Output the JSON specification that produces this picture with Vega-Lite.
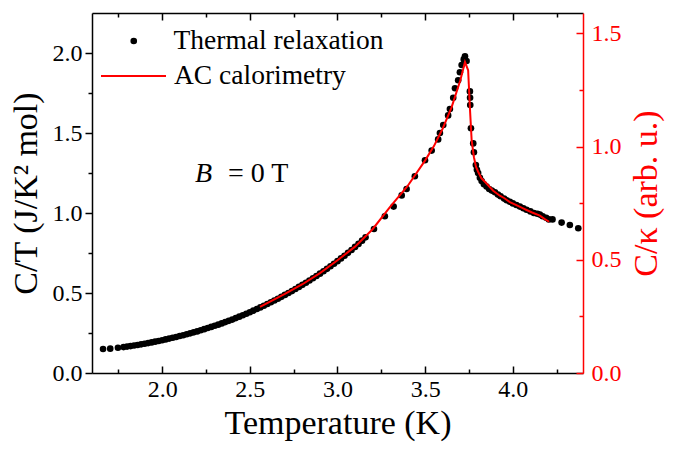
{
  "$schema": "https://vega.github.io/schema/vega-lite/v6.json",
  "width": 491,
  "height": 360,
  "autosize": "none",
  "padding": {"left": 92, "top": 13, "right": 93, "bottom": 76},
  "background": "white",
  "config": {
    "view": {"stroke": null},
    "font": "Liberation Serif",
    "axis": {
      "labelFont": "Liberation Serif",
      "titleFont": "Liberation Serif",
      "labelFontSize": 24,
      "titleFontSize": 34,
      "titleFontWeight": "normal",
      "labelColor": "#000",
      "titleColor": "#000",
      "domainColor": "#000",
      "tickColor": "#000",
      "domainWidth": 1.5,
      "tickWidth": 1.5,
      "grid": false,
      "labelFlush": false,
      "labelOverlap": false
    },
    "legend": {
      "labelFont": "Liberation Serif",
      "labelFontSize": 27.5,
      "labelColor": "#000",
      "labelLimit": 0
    }
  },
  "datasets": {
    "relax": [
      {"T": 1.663, "CT": 0.150}, {"T": 1.704, "CT": 0.152}, {"T": 1.748, "CT": 0.158},
      {"T": 1.78, "CT": 0.162}, {"T": 1.80, "CT": 0.165}, {"T": 1.82, "CT": 0.168},
      {"T": 1.84, "CT": 0.172}, {"T": 1.86, "CT": 0.175}, {"T": 1.88, "CT": 0.179},
      {"T": 1.90, "CT": 0.183}, {"T": 1.92, "CT": 0.187}, {"T": 1.94, "CT": 0.191},
      {"T": 1.96, "CT": 0.196}, {"T": 1.98, "CT": 0.200}, {"T": 2.00, "CT": 0.205},
      {"T": 2.02, "CT": 0.210}, {"T": 2.04, "CT": 0.215}, {"T": 2.06, "CT": 0.220},
      {"T": 2.08, "CT": 0.225}, {"T": 2.10, "CT": 0.231}, {"T": 2.12, "CT": 0.236},
      {"T": 2.14, "CT": 0.242}, {"T": 2.16, "CT": 0.248}, {"T": 2.18, "CT": 0.254},
      {"T": 2.20, "CT": 0.260}, {"T": 2.22, "CT": 0.267}, {"T": 2.24, "CT": 0.274},
      {"T": 2.26, "CT": 0.281}, {"T": 2.28, "CT": 0.288}, {"T": 2.30, "CT": 0.295},
      {"T": 2.32, "CT": 0.302}, {"T": 2.34, "CT": 0.310}, {"T": 2.36, "CT": 0.318},
      {"T": 2.38, "CT": 0.326}, {"T": 2.40, "CT": 0.334}, {"T": 2.42, "CT": 0.343},
      {"T": 2.44, "CT": 0.352}, {"T": 2.46, "CT": 0.361}, {"T": 2.48, "CT": 0.370},
      {"T": 2.50, "CT": 0.380}, {"T": 2.52, "CT": 0.390}, {"T": 2.54, "CT": 0.400},
      {"T": 2.56, "CT": 0.410}, {"T": 2.58, "CT": 0.420}, {"T": 2.60, "CT": 0.431},
      {"T": 2.62, "CT": 0.442}, {"T": 2.64, "CT": 0.453}, {"T": 2.66, "CT": 0.464},
      {"T": 2.68, "CT": 0.476}, {"T": 2.70, "CT": 0.488}, {"T": 2.72, "CT": 0.500},
      {"T": 2.74, "CT": 0.512}, {"T": 2.76, "CT": 0.525}, {"T": 2.78, "CT": 0.538},
      {"T": 2.80, "CT": 0.551}, {"T": 2.82, "CT": 0.564}, {"T": 2.84, "CT": 0.578},
      {"T": 2.86, "CT": 0.592}, {"T": 2.88, "CT": 0.606}, {"T": 2.90, "CT": 0.621},
      {"T": 2.92, "CT": 0.636}, {"T": 2.94, "CT": 0.651}, {"T": 2.96, "CT": 0.667},
      {"T": 2.98, "CT": 0.683}, {"T": 3.00, "CT": 0.699}, {"T": 3.02, "CT": 0.716},
      {"T": 3.04, "CT": 0.733}, {"T": 3.06, "CT": 0.751}, {"T": 3.08, "CT": 0.769},
      {"T": 3.10, "CT": 0.788}, {"T": 3.12, "CT": 0.807}, {"T": 3.14, "CT": 0.827},
      {"T": 3.16, "CT": 0.848},
      {"T": 3.208, "CT": 0.90}, {"T": 3.27, "CT": 0.98}, {"T": 3.32, "CT": 1.04},
      {"T": 3.366, "CT": 1.11}, {"T": 3.394, "CT": 1.15}, {"T": 3.441, "CT": 1.23},
      {"T": 3.499, "CT": 1.33}, {"T": 3.537, "CT": 1.39}, {"T": 3.574, "CT": 1.46},
      {"T": 3.584, "CT": 1.50}, {"T": 3.603, "CT": 1.55}, {"T": 3.631, "CT": 1.61},
      {"T": 3.641, "CT": 1.65}, {"T": 3.660, "CT": 1.72}, {"T": 3.670, "CT": 1.78},
      {"T": 3.688, "CT": 1.83}, {"T": 3.698, "CT": 1.88}, {"T": 3.708, "CT": 1.925},
      {"T": 3.720, "CT": 1.96}, {"T": 3.727, "CT": 1.98}, {"T": 3.736, "CT": 1.95},
      {"T": 3.755, "CT": 1.76}, {"T": 3.756, "CT": 1.72}, {"T": 3.757, "CT": 1.675},
      {"T": 3.761, "CT": 1.53}, {"T": 3.774, "CT": 1.435}, {"T": 3.778, "CT": 1.38},
      {"T": 3.789, "CT": 1.30}, {"T": 3.795, "CT": 1.27}, {"T": 3.802, "CT": 1.25},
      {"T": 3.812, "CT": 1.22}, {"T": 3.822, "CT": 1.20}, {"T": 3.835, "CT": 1.18},
      {"T": 3.850, "CT": 1.165}, {"T": 3.865, "CT": 1.15}, {"T": 3.880, "CT": 1.14},
      {"T": 3.898, "CT": 1.13}, {"T": 3.915, "CT": 1.115}, {"T": 3.930, "CT": 1.105},
      {"T": 3.950, "CT": 1.09}, {"T": 3.965, "CT": 1.08}, {"T": 3.983, "CT": 1.07},
      {"T": 4.000, "CT": 1.06}, {"T": 4.020, "CT": 1.05}, {"T": 4.040, "CT": 1.04},
      {"T": 4.060, "CT": 1.03}, {"T": 4.078, "CT": 1.02}, {"T": 4.100, "CT": 1.01},
      {"T": 4.120, "CT": 1.00}, {"T": 4.140, "CT": 0.995}, {"T": 4.154, "CT": 0.99},
      {"T": 4.170, "CT": 0.98}, {"T": 4.190, "CT": 0.97}, {"T": 4.205, "CT": 0.96},
      {"T": 4.226, "CT": 0.96}, {"T": 4.278, "CT": 0.94}, {"T": 4.325, "CT": 0.925},
      {"T": 4.373, "CT": 0.905}
    ],
    "ac": [
      {"T": 2.558, "R": 0.292}, {"T": 2.70, "R": 0.349}, {"T": 2.80, "R": 0.392},
      {"T": 2.90, "R": 0.441}, {"T": 3.00, "R": 0.498}, {"T": 3.10, "R": 0.558},
      {"T": 3.20, "R": 0.635}, {"T": 3.30, "R": 0.734}, {"T": 3.40, "R": 0.826},
      {"T": 3.50, "R": 0.939}, {"T": 3.55, "R": 1.002}, {"T": 3.60, "R": 1.080},
      {"T": 3.65, "R": 1.172}, {"T": 3.70, "R": 1.292}, {"T": 3.727, "R": 1.373},
      {"T": 3.745, "R": 1.337}, {"T": 3.755, "R": 1.172}, {"T": 3.765, "R": 1.028},
      {"T": 3.778, "R": 0.953}, {"T": 3.790, "R": 0.910}, {"T": 3.802, "R": 0.889},
      {"T": 3.820, "R": 0.861}, {"T": 3.850, "R": 0.837}, {"T": 3.888, "R": 0.805},
      {"T": 3.926, "R": 0.783}, {"T": 3.950, "R": 0.773}, {"T": 3.983, "R": 0.755},
      {"T": 4.020, "R": 0.741}, {"T": 4.050, "R": 0.730}, {"T": 4.078, "R": 0.720},
      {"T": 4.110, "R": 0.709}, {"T": 4.154, "R": 0.695}, {"T": 4.180, "R": 0.681},
      {"T": 4.207, "R": 0.668}
    ],
    "note": [
      {"T": 2.187, "CT": 1.196, "txt": "B"},
      {"T": 2.375, "CT": 1.196, "txt": "= 0 T"}
    ]
  },
  "resolve": {
    "scale": {"y": "independent", "color": "independent"},
    "axis": {"x": "independent", "y": "independent"}
  },
  "layer": [
    {
      "data": {"name": "relax"},
      "mark": {"type": "point", "opacity": 0},
      "encoding": {
        "x": {"field": "T", "type": "quantitative",
              "scale": {"domain": [1.6, 4.4], "nice": false, "zero": false},
              "axis": {"orient": "bottom", "values": [1.75, 2.25, 2.75, 3.25, 3.75, 4.25], "labels": false, "domain": false, "tickSize": -4, "title": null}},
        "y": {"field": "CT", "type": "quantitative",
              "scale": {"domain": [0, 2.25], "nice": false, "zero": false},
              "axis": {"orient": "left", "values": [0.25, 0.75, 1.25, 1.75], "labels": false, "domain": false, "tickSize": 4, "title": null}}
      }
    },
    {
      "data": {"name": "relax"},
      "mark": {"type": "point", "opacity": 0},
      "encoding": {
        "x": {"field": "T", "type": "quantitative",
              "scale": {"domain": [1.6, 4.4], "nice": false, "zero": false},
              "axis": {"orient": "top", "values": [2.0, 2.5, 3.0, 3.5, 4.0], "labels": false, "domain": true, "tickSize": -7, "title": null}},
        "y": {"field": "CT", "type": "quantitative",
              "scale": {"domain": [0, 1.59], "nice": false, "zero": false},
              "axis": {"orient": "right", "values": [0.25, 0.75, 1.25], "labels": false, "domain": false, "tickSize": -4, "tickColor": "#ff0000", "title": null}}
      }
    },
    {
      "data": {"name": "relax"},
      "mark": {"type": "point", "opacity": 0},
      "encoding": {
        "x": {"field": "T", "type": "quantitative",
              "scale": {"domain": [1.6, 4.4], "nice": false, "zero": false},
              "axis": {"orient": "top", "values": [1.75, 2.25, 2.75, 3.25, 3.75, 4.25], "labels": false, "domain": false, "tickSize": -4, "title": null}},
        "y": {"field": "CT", "type": "quantitative",
              "scale": {"domain": [0, 2.25], "nice": false, "zero": false},
              "axis": null}
      }
    },
    {
      "data": {"name": "relax"},
      "mark": {"type": "point", "filled": true, "size": 44, "opacity": 1},
      "encoding": {
        "x": {"field": "T", "type": "quantitative",
              "scale": {"domain": [1.6, 4.4], "nice": false, "zero": false},
              "axis": {"orient": "bottom", "values": [2.0, 2.5, 3.0, 3.5, 4.0], "format": ".1f", "tickSize": -7, "labelPadding": 11, "title": "Temperature (K)", "titlePadding": 5}},
        "y": {"field": "CT", "type": "quantitative",
              "scale": {"domain": [0, 2.25], "nice": false, "zero": false},
              "axis": {"orient": "left", "values": [0, 0.5, 1.0, 1.5, 2.0], "format": ".1f", "tickSize": 7, "labelPadding": 3, "title": "C/T (J/K² mol)", "titlePadding": 9}},
        "color": {"datum": "Thermal relaxation", "type": "nominal",
                  "scale": {"range": ["#000000"]},
                  "legend": {
                    "title": null,
                    "orient": "top-left",
                    "offset": 8,
                    "padding": 0,
                    "symbolType": "circle",
                    "symbolSize": 44,
                    "symbolOpacity": 1,
                    "symbolOffset": 20,
                    "labelOffset": 26,
                    "clipHeight": 40
                  }}
      }
    },
    {
      "data": {"name": "ac"},
      "mark": {"type": "line", "strokeWidth": 2},
      "encoding": {
        "x": {"field": "T", "type": "quantitative",
              "scale": {"domain": [1.6, 4.4], "nice": false, "zero": false},
              "axis": null},
        "y": {"field": "R", "type": "quantitative",
              "scale": {"domain": [0, 1.59], "nice": false, "zero": false},
              "axis": {"orient": "right", "values": [0, 0.5, 1.0, 1.5], "format": ".1f", "tickSize": -7, "labelPadding": 15,
                       "domainColor": "#ff0000", "tickColor": "#ff0000", "labelColor": "#ff0000", "titleColor": "#ff0000",
                       "title": "C/κ (arb. u.)", "titleAngle": 270, "titleBaseline": "top", "titlePadding": 8}},
        "color": {"datum": "AC calorimetry", "type": "nominal",
                  "scale": {"range": ["#ff0000"]},
                  "legend": {
                    "title": null,
                    "orient": "none",
                    "legendX": 8,
                    "legendY": 48,
                    "padding": 0,
                    "symbolType": "stroke",
                    "symbolSize": 4225,
                    "symbolStrokeWidth": 2,
                    "labelOffset": 7,
                    "clipHeight": 30
                  }}
      }
    },
    {
      "data": {"name": "note"},
      "transform": [{"filter": "datum.txt === 'B'"}],
      "mark": {"type": "text", "font": "Liberation Serif", "fontStyle": "italic", "fontSize": 28, "align": "left", "baseline": "alphabetic", "color": "#000"},
      "encoding": {
        "x": {"field": "T", "type": "quantitative", "scale": {"domain": [1.6, 4.4], "nice": false, "zero": false}, "axis": null},
        "y": {"field": "CT", "type": "quantitative", "scale": {"domain": [0, 2.25], "nice": false, "zero": false}, "axis": null},
        "text": {"field": "txt"}
      }
    },
    {
      "data": {"name": "note"},
      "transform": [{"filter": "datum.txt !== 'B'"}],
      "mark": {"type": "text", "font": "Liberation Serif", "fontSize": 28, "align": "left", "baseline": "alphabetic", "color": "#000"},
      "encoding": {
        "x": {"field": "T", "type": "quantitative", "scale": {"domain": [1.6, 4.4], "nice": false, "zero": false}, "axis": null},
        "y": {"field": "CT", "type": "quantitative", "scale": {"domain": [0, 2.25], "nice": false, "zero": false}, "axis": null},
        "text": {"field": "txt"}
      }
    }
  ]
}
